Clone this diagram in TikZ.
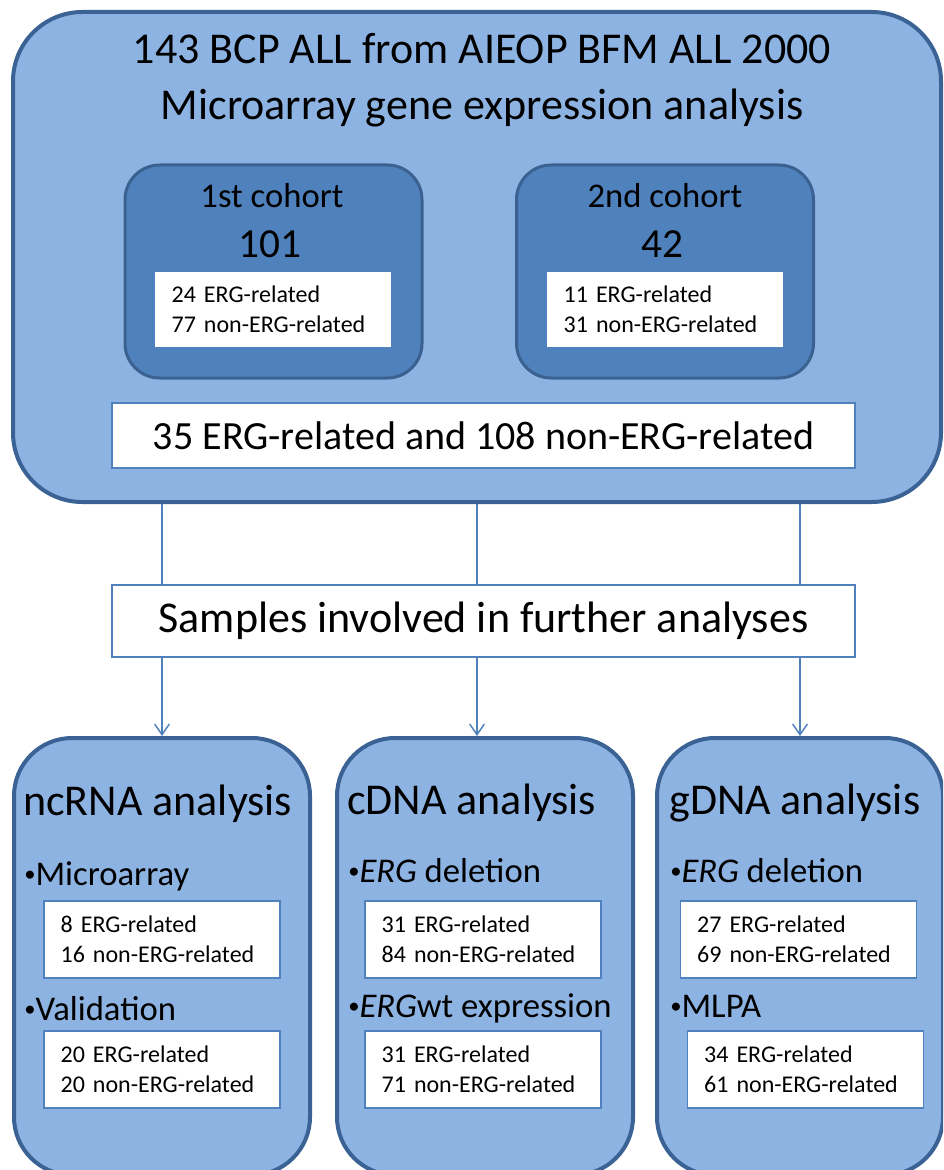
\documentclass[tikz,border=0pt]{standalone}
\usepackage{fontspec}
\setmainfont{Carlito}
\usetikzlibrary{arrows.meta}
\usetikzlibrary{backgrounds}
\usetikzlibrary{positioning}

\definecolor{boxfill}{HTML}{8DB3E2}
\definecolor{boxedge}{HTML}{3B6294}
\definecolor{cohortfill}{HTML}{4F81BD}
\definecolor{cohortedge}{HTML}{3A6190}
\definecolor{lineblue}{HTML}{4F81BD}

\newcommand{\bulletdot}{\raisebox{3pt}{\fontsize{17}{17}\selectfont •}}

\tikzset{
  bigbox/.style={draw=boxedge, line width=3pt, fill=boxfill, rounded corners=52pt},
  cohortbox/.style={draw=cohortedge, line width=2.25pt, fill=cohortfill, rounded corners=26pt,
    minimum width=222.75pt, minimum height=159.75pt},
  anabox/.style={draw=boxedge, line width=3pt, fill=boxfill, rounded corners=43.5pt,
    minimum width=222pt, minimum height=327.75pt},
  label/.style={inner sep=0pt},
  smalltext/.style={font=\fontsize{18}{22.5}\selectfont},
  listbox/.style={smalltext, fill=white, align=left, inner xsep=12.5pt, inner ysep=0pt,
    text width=152pt, minimum height=56.25pt},
  anabox list/.style={listbox, draw=lineblue, line width=0.8pt, minimum height=57.75pt},
  widebox/.style={draw=lineblue, line width=1pt, fill=white, minimum width=557.25pt},
  flow/.style={draw=lineblue, line width=1.1pt, -{Straight Barb[length=8pt,width=11pt]}}
}

\begin{document}
\begin{tikzpicture}[x=0.75pt, y=-0.75pt]
  \useasboundingbox (0,0) rectangle (943,1170);
  \clip (0,0) rectangle (943,1170);

  % Microarray cohort block
  \node[bigbox, minimum width=696pt, minimum height=367.5pt] (allbox) at (477,257) {};
  \node[label, align=center, anchor=north, font=\fontsize{33}{42}\selectfont] (title) at (482,33)
    {143 BCP ALL from AIEOP BFM ALL 2000\\Microarray gene expression analysis};

  \node[cohortbox] (coh1) at (273.5,271.5) {};
  \node[cohortbox] (coh2) at (665,271.5) {};
  \node[label, anchor=base, font=\fontsize{26}{30}\selectfont] (coh1name) at (272,207) {1st cohort};
  \node[label, anchor=base, font=\fontsize{26}{30}\selectfont] (coh2name) at (665,207) {2nd cohort};
  \node[label, anchor=base, font=\fontsize{31}{36}\selectfont] (coh1n) at (270,257) {101};
  \node[label, anchor=base, font=\fontsize{31}{36}\selectfont] (coh2n) at (662,257) {42};
  \node[listbox] (coh1list) at (273,309.5) {24 ERG-related\\77 non-ERG-related};
  \node[listbox] (coh2list) at (665,309.5) {11 ERG-related\\31 non-ERG-related};

  \node[widebox, minimum height=48.75pt, font=\fontsize{30}{36}\selectfont] (total) at (483.5,435.5)
    {35 ERG-related and 108 non-ERG-related};

  % Further analyses
  \node[widebox, minimum height=54pt, font=\fontsize{33}{40}\selectfont] (samples) at (483.5,621)
    {Samples involved in further analyses};

  \node[anabox] (ncrna) at (162,956.5) {};
  \node[anabox] (cdna) at (485,956.5) {};
  \node[anabox, minimum width=214.5pt] (gdna) at (800,956.5) {};

  \node[label, anchor=base west, font=\fontsize{33}{40}\selectfont] (ncrnatitle) at (23,815) {ncRNA analysis};
  \node[label, anchor=base west, font=\fontsize{33}{40}\selectfont] (cdnatitle) at (347,814) {cDNA analysis};
  \node[label, anchor=base west, font=\fontsize{33}{40}\selectfont] (gdnatitle) at (669,814) {gDNA analysis};

  \node[label, anchor=base west, font=\fontsize{26}{30}\selectfont] (ncrnaa) at (24,885) {\bulletdot Microarray};
  \node[label, anchor=base west, font=\fontsize{26}{30}\selectfont] (cdnaa) at (348,882) {\bulletdot\textit{ERG} deletion};
  \node[label, anchor=base west, font=\fontsize{26}{30}\selectfont] (gdnaa) at (670,882) {\bulletdot\textit{ERG} deletion};
  \node[label, anchor=base west, font=\fontsize{26}{30}\selectfont] (ncrnab) at (24,1020) {\bulletdot Validation};
  \node[label, anchor=base west, font=\fontsize{26}{30}\selectfont] (cdnab) at (348,1017) {\bulletdot\textit{ERG}wt expression};
  \node[label, anchor=base west, font=\fontsize{26}{30}\selectfont] (gdnab) at (670,1017) {\bulletdot MLPA};

  \node[anabox list] (ncrnalista) at (162,939.5) {8 ERG-related\\16 non-ERG-related};
  \node[anabox list] (ncrnalistb) at (162,1069.5) {20 ERG-related\\20 non-ERG-related};
  \node[anabox list] (cdnalista) at (483,939.5) {31 ERG-related\\84 non-ERG-related};
  \node[anabox list] (cdnalistb) at (483,1069.5) {31 ERG-related\\71 non-ERG-related};
  \node[anabox list] (gdnalista) at (798.5,939.5) {27 ERG-related\\69 non-ERG-related};
  \node[anabox list] (gdnalistb) at (805.5,1069.5) {34 ERG-related\\61 non-ERG-related};

  % Arrows behind the samples box
  \begin{scope}[on background layer]
    \draw[flow] (allbox.south -| ncrna.north) -- (ncrna.north);
    \draw[flow] (allbox.south) -- (allbox.south |- cdna.north);
    \draw[flow] (allbox.south -| gdna.north) -- (gdna.north);
  \end{scope}
\end{tikzpicture}
\end{document}
